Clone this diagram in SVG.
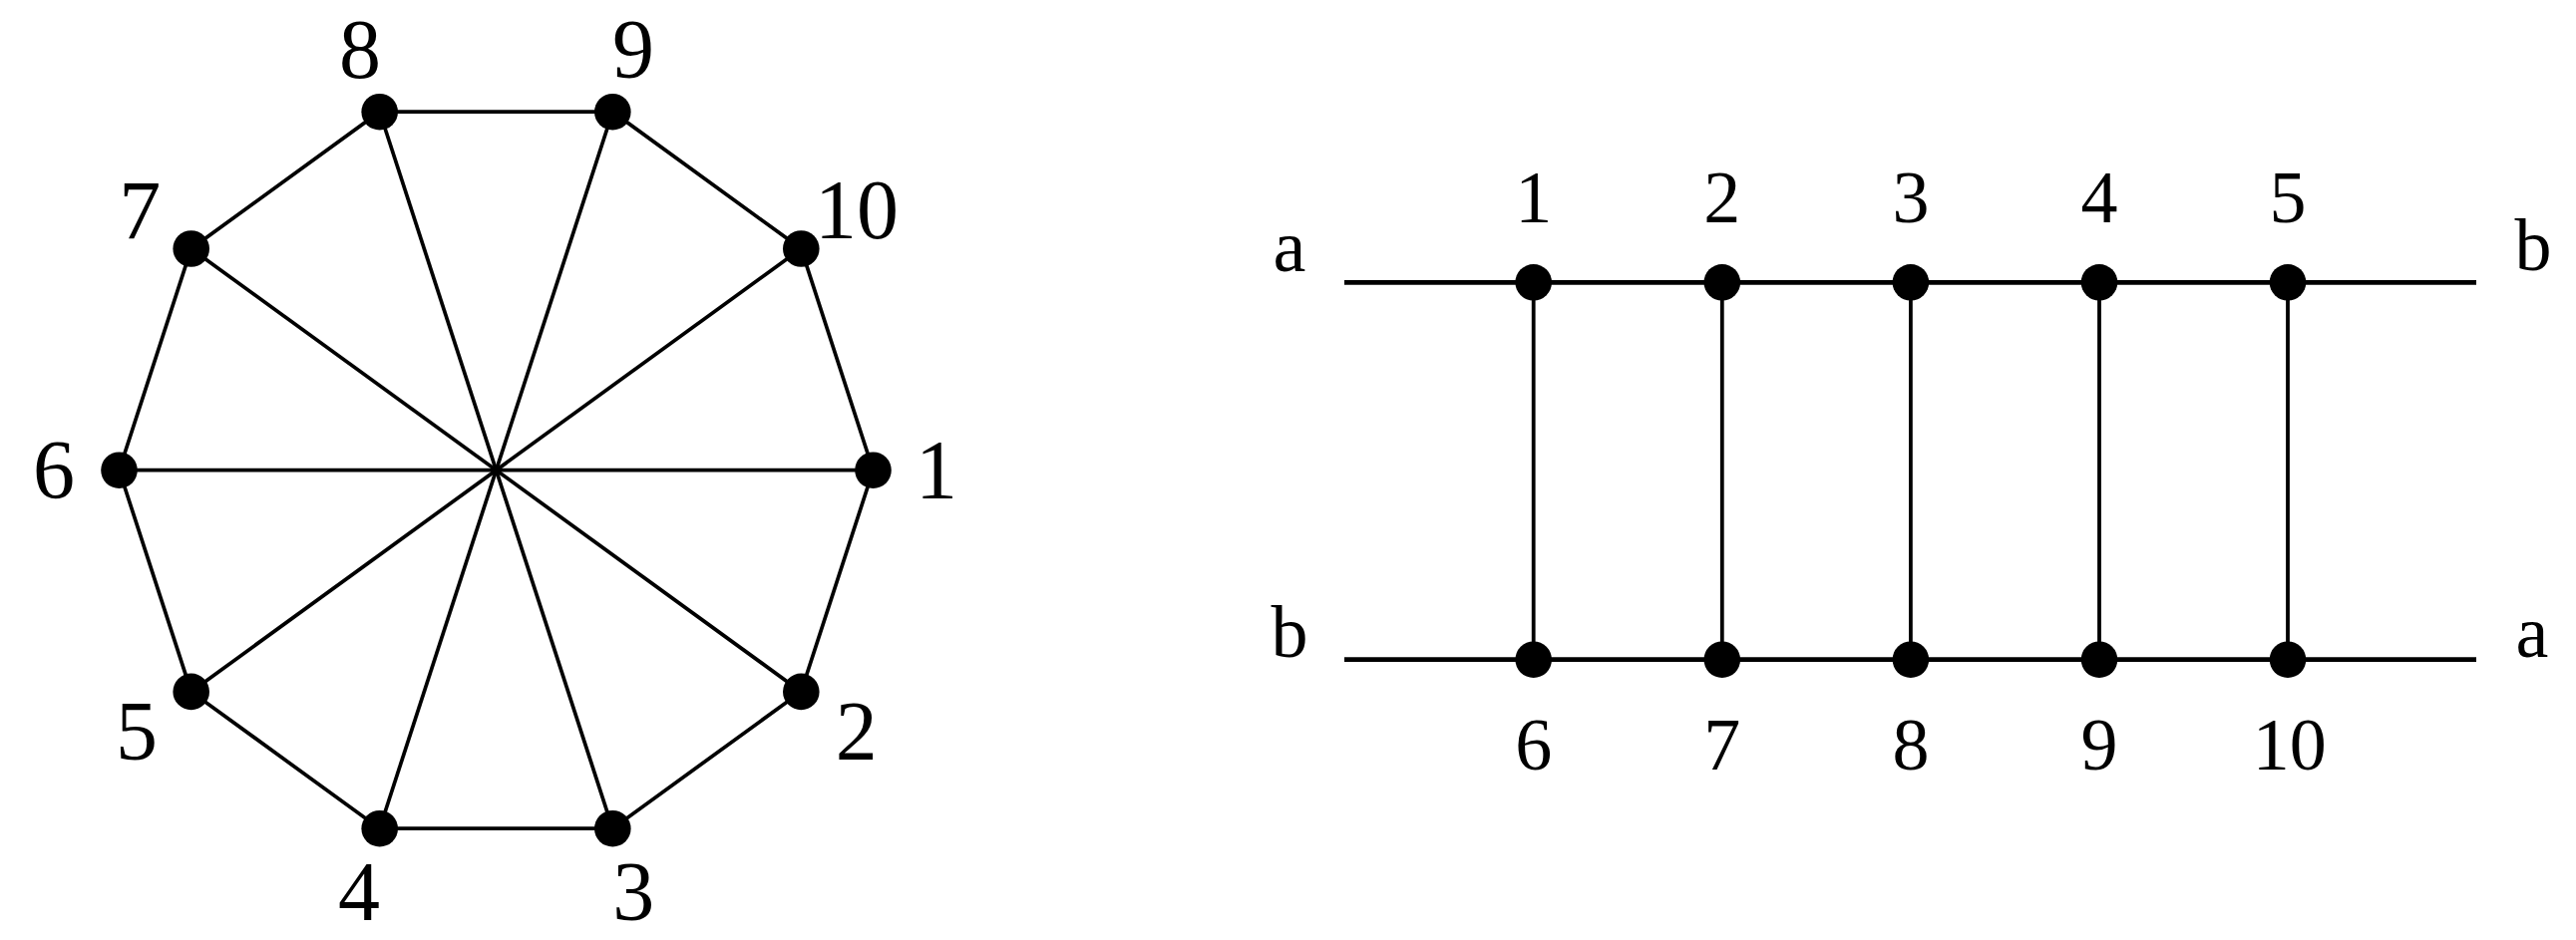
<svg xmlns="http://www.w3.org/2000/svg" width="2583" height="943" viewBox="0 0 2583 943">
<style>
.bg{fill:#fff}
.e{stroke:#000;stroke-width:3.7;fill:none;stroke-linecap:butt}
.h{stroke:#000;stroke-width:4.8;fill:none}
.v{stroke:#000;stroke-width:3.8;fill:none}
.n{fill:#000}
.t{font-family:"Liberation Serif","Times New Roman",serif;fill:#000;text-anchor:middle}
.big{font-size:84px}
.sm{font-size:74px}
</style>
<rect class="bg" x="0" y="0" width="2583" height="943"/>
<g id="connectors">
  <g id="decagon-edges">
    <polygon class="e" points="875.5,471.7 803.3,693.9 614.3,831.2 380.7,831.2 191.7,693.9 119.5,471.7 191.7,249.5 380.7,112.2 614.3,112.2 803.3,249.5"/>
    <line class="e" x1="875.5" y1="471.7" x2="119.5" y2="471.7"/>
    <line class="e" x1="803.3" y1="693.9" x2="191.7" y2="249.5"/>
    <line class="e" x1="614.3" y1="831.2" x2="380.7" y2="112.2"/>
    <line class="e" x1="380.7" y1="831.2" x2="614.3" y2="112.2"/>
    <line class="e" x1="191.7" y1="693.9" x2="803.3" y2="249.5"/>
  </g>
  <g id="ladder-edges">
    <line class="h" x1="1348" y1="283.3" x2="2483" y2="283.3"/>
    <line class="h" x1="1348" y1="661.7" x2="2483" y2="661.7"/>
    <line class="v" x1="1537.7" y1="283.3" x2="1537.7" y2="661.7"/>
    <line class="v" x1="1726.8" y1="283.3" x2="1726.8" y2="661.7"/>
    <line class="v" x1="1915.9" y1="283.3" x2="1915.9" y2="661.7"/>
    <line class="v" x1="2105" y1="283.3" x2="2105" y2="661.7"/>
    <line class="v" x1="2294" y1="283.3" x2="2294" y2="661.7"/>
  </g>
</g>
<g id="decagon">
  <g id="d1"><circle class="n" cx="875.5" cy="471.7" r="18.3"/><text class="t big" x="939" y="500">1</text></g>
  <g id="d2"><circle class="n" cx="803.3" cy="693.9" r="18.3"/><text class="t big" x="858.7" y="762">2</text></g>
  <g id="d3"><circle class="n" cx="614.3" cy="831.2" r="18.3"/><text class="t big" x="635.3" y="922.7">3</text></g>
  <g id="d4"><circle class="n" cx="380.7" cy="831.2" r="18.3"/><text class="t big" x="360" y="922.7">4</text></g>
  <g id="d5"><circle class="n" cx="191.7" cy="693.9" r="18.3"/><text class="t big" x="137" y="762">5</text></g>
  <g id="d6"><circle class="n" cx="119.5" cy="471.7" r="18.3"/><text class="t big" x="54" y="500">6</text></g>
  <g id="d7"><circle class="n" cx="191.7" cy="249.5" r="18.3"/><text class="t big" x="140.3" y="240">7</text></g>
  <g id="d8"><circle class="n" cx="380.7" cy="112.2" r="18.3"/><text class="t big" x="361" y="78.3">8</text></g>
  <g id="d9"><circle class="n" cx="614.3" cy="112.2" r="18.3"/><text class="t big" x="635" y="78.3">9</text></g>
  <g id="d10"><circle class="n" cx="803.3" cy="249.5" r="18.3"/><text class="t big" x="859" y="239">10</text></g>
</g>
<g id="ladder">
  <g id="l1"><circle class="n" cx="1537.7" cy="283.3" r="18.3"/><text class="t sm" x="1537.7" y="223.3">1</text></g>
  <g id="l2"><circle class="n" cx="1726.8" cy="283.3" r="18.3"/><text class="t sm" x="1726.8" y="223.3">2</text></g>
  <g id="l3"><circle class="n" cx="1915.9" cy="283.3" r="18.3"/><text class="t sm" x="1915.9" y="223.3">3</text></g>
  <g id="l4"><circle class="n" cx="2105" cy="283.3" r="18.3"/><text class="t sm" x="2105" y="223.3">4</text></g>
  <g id="l5"><circle class="n" cx="2294" cy="283.3" r="18.3"/><text class="t sm" x="2294" y="223.3">5</text></g>
  <g id="l6"><circle class="n" cx="1537.7" cy="661.7" r="18.3"/><text class="t sm" x="1537.7" y="771.7">6</text></g>
  <g id="l7"><circle class="n" cx="1726.8" cy="661.7" r="18.3"/><text class="t sm" x="1726.8" y="771.7">7</text></g>
  <g id="l8"><circle class="n" cx="1915.9" cy="661.7" r="18.3"/><text class="t sm" x="1915.9" y="771.7">8</text></g>
  <g id="l9"><circle class="n" cx="2105" cy="661.7" r="18.3"/><text class="t sm" x="2105" y="771.7">9</text></g>
  <g id="l10"><circle class="n" cx="2294" cy="661.7" r="18.3"/><text class="t sm" x="2295.8" y="771.7">10</text></g>
  <g id="end-a-left"><text class="t sm" x="1293" y="271.7">a</text></g>
  <g id="end-b-right"><text class="t sm" x="2540" y="270.7">b</text></g>
  <g id="end-b-left"><text class="t sm" x="1293" y="659.3">b</text></g>
  <g id="end-a-right"><text class="t sm" x="2539" y="659.3">a</text></g>
</g>
</svg>
